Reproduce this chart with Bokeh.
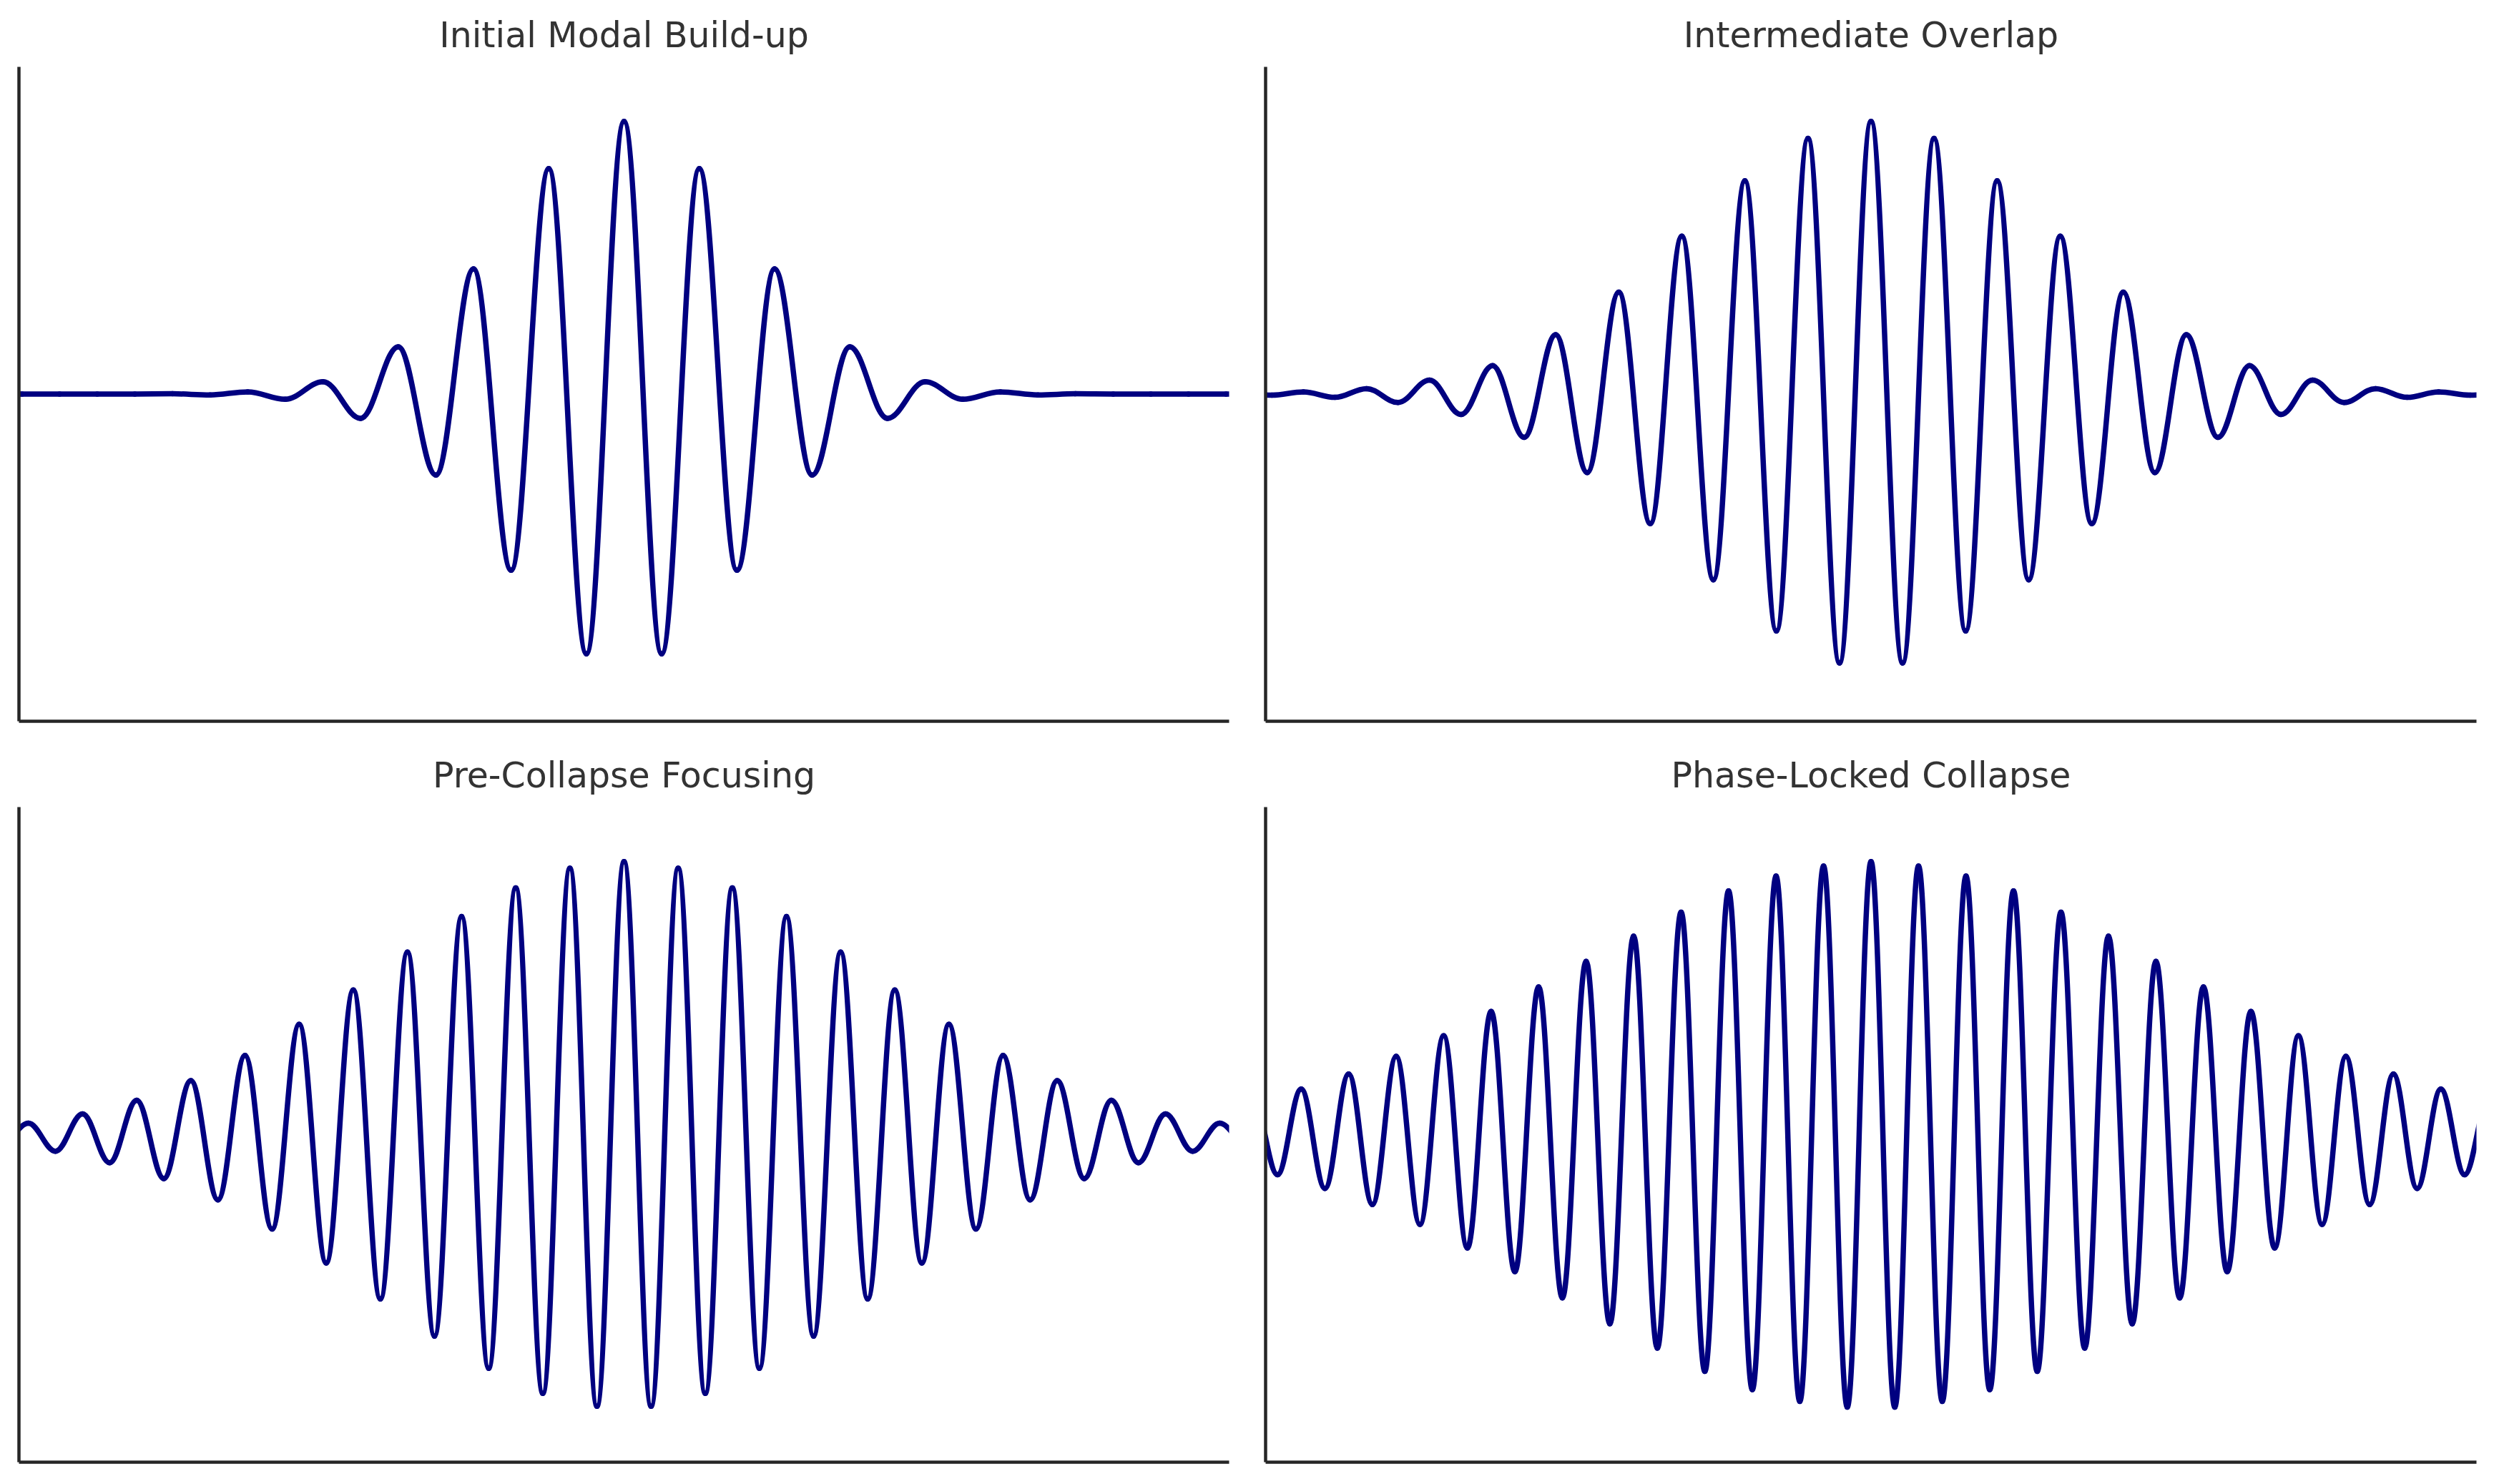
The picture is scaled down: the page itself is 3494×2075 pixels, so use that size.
from bokeh.plotting import figure
from bokeh.models import Range1d, ColumnDataSource, FixedTicker
from bokeh.layouts import gridplot
from bokeh.embed import file_html
from bokeh.resources import INLINE

# ---- data (extrema of each wave packet) ----
TITLES = ["Initial Modal Build-up", "Intermediate Overlap",
          "Pre-Collapse Focusing", "Phase-Locked Collapse"]

# extremum index (half-periods from the packet centre) and extremum value
P1_INDEX = [-17, -16, -15, -14, -13, -12, -11, -10, -9, -8, -7, -6, -5, -4, -3, -2, -1, 0,
            1, 2, 3, 4, 5, 6, 7, 8, 9, 10, 11, 12, 13, 14, 15, 16, 17]
P1_VALUE = [0, 0, 0, 0, 0, 0.001, -0.003, 0.008, -0.019, 0.045, -0.089, 0.173, -0.297,
            0.459, -0.646, 0.827, -0.953, 1.0, -0.953, 0.827, -0.646, 0.459, -0.297,
            0.173, -0.089, 0.045, -0.019, 0.008, -0.003, 0.001, 0, 0, 0, 0, 0]

P2_INDEX = [-20, -19, -18, -17, -16, -15, -14, -13, -12, -11, -10, -9, -8, -7, -6, -5, -4,
            -3, -2, -1, 0, 1, 2, 3, 4, 5, 6, 7, 8, 9, 10, 11, 12, 13, 14, 15, 16, 17, 18,
            19, 20]
P2_VALUE = [0.002, -0.004, 0.008, -0.012, 0.020, -0.031, 0.051, -0.075, 0.104, -0.159,
            0.218, -0.288, 0.374, -0.475, 0.579, -0.681, 0.782, -0.869, 0.938, -0.986,
            1.0, -0.986, 0.938, -0.869, 0.782, -0.681, 0.579, -0.475, 0.374, -0.288,
            0.218, -0.159, 0.104, -0.075, 0.051, -0.031, 0.020, -0.012, 0.008, -0.004,
            0.002]

P3_INDEX = [-23, -22, -21, -20, -19, -18, -17, -16, -15, -14, -13, -12, -11, -10, -9, -8,
            -7, -6, -5, -4, -3, -2, -1, 0, 1, 2, 3, 4, 5, 6, 7, 8, 9, 10, 11, 12, 13, 14,
            15, 16, 17, 18, 19, 20, 21, 22, 23]
P3_VALUE = [-0.037, 0.042, -0.061, 0.076, -0.103, 0.126, -0.161, 0.198, -0.239, 0.290,
            -0.346, 0.404, -0.470, 0.530, -0.602, 0.669, -0.738, 0.799, -0.856, 0.904,
            -0.948, 0.976, -0.995, 1.0, -0.995, 0.976, -0.948, 0.904, -0.856, 0.799,
            -0.738, 0.669, -0.602, 0.530, -0.470, 0.404, -0.346, 0.290, -0.239, 0.198,
            -0.161, 0.126, -0.103, 0.076, -0.061, 0.042, -0.037]

P4_INDEX = [-26, -25, -24, -23, -22, -21, -20, -19, -18, -17, -16, -15, -14, -13, -12,
            -11, -10, -9, -8, -7, -6, -5, -4, -3, -2, -1, 0, 1, 2, 3, 4, 5, 6, 7, 8, 9, 10,
            11, 12, 13, 14, 15, 16, 17, 18, 19, 20, 21, 22, 23, 24, 25, 26]
P4_VALUE = [0.125, -0.147, 0.167, -0.197, 0.222, -0.256, 0.287, -0.329, 0.362, -0.415,
            0.451, -0.502, 0.541, -0.598, 0.635, -0.693, 0.727, -0.782, 0.815, -0.867,
            0.893, -0.934, 0.947, -0.977, 0.984, -0.998, 1.0, -0.998, 0.984, -0.977,
            0.947, -0.934, 0.893, -0.867, 0.815, -0.782, 0.727, -0.693, 0.635, -0.598,
            0.541, -0.502, 0.451, -0.415, 0.362, -0.329, 0.287, -0.256, 0.222, -0.197,
            0.167, -0.147, 0.125]

# visible x extent of each panel, in half-periods
X_EXTENT = [16.08, 19.2, 22.35, 25.5]
Y_EXTENT = 1.2

SERIES = [(P1_INDEX, P1_VALUE), (P2_INDEX, P2_VALUE),
          (P3_INDEX, P3_VALUE), (P4_INDEX, P4_VALUE)]

LINE_COLOR = "#000080"
SPINE_COLOR = "#262626"
TITLE_COLOR = "#333333"
K = 0.3634  # Bezier handle fraction for a half-cosine arc


def segments(xs, ys):
    d = dict(x0=[], y0=[], x1=[], y1=[], cx0=[], cy0=[], cx1=[], cy1=[])
    for i in range(len(xs) - 1):
        xa, ya, xb, yb = xs[i], ys[i], xs[i + 1], ys[i + 1]
        dx = xb - xa
        d["x0"].append(xa); d["y0"].append(ya)
        d["x1"].append(xb); d["y1"].append(yb)
        d["cx0"].append(xa + K * dx); d["cy0"].append(ya)
        d["cx1"].append(xb - K * dx); d["cy1"].append(yb)
    return ColumnDataSource(d)


# (width, height, border left, right, top, bottom)
LAYOUT = [
    (1743, 1037, 26, 25, 93, 29),
    (1739, 1037, 26, 20, 93, 29),
    (1743, 1021, 26, 25, 91, 14),
    (1739, 1021, 26, 20, 91, 14),
]

plots = []
for k in range(4):
    w, h, bl, br, bt, bb = LAYOUT[k]
    xe = X_EXTENT[k]
    p = figure(width=w, height=h, output_backend="svg", toolbar_location=None,
               x_range=Range1d(-xe, xe), y_range=Range1d(-Y_EXTENT, Y_EXTENT),
               min_border_left=bl, min_border_right=br,
               min_border_top=bt, min_border_bottom=bb,
               title=TITLES[k])
    p.outline_line_color = None
    p.background_fill_color = "white"
    p.border_fill_color = "white"
    p.xgrid.visible = False
    p.ygrid.visible = False
    for ax in (p.xaxis[0], p.yaxis[0]):
        ax.ticker = FixedTicker(ticks=[])
        ax.major_tick_line_color = None
        ax.minor_tick_line_color = None
        ax.major_label_text_font_size = "0px"
        ax.major_label_standoff = 0
        ax.axis_line_color = SPINE_COLOR
        ax.axis_line_width = 4.5
    p.title.text = TITLES[k]
    p.title.align = "center"
    p.title.text_font = "DejaVu Sans"
    p.title.text_font_size = "49px"
    p.title.text_font_style = "normal"
    p.title.text_color = TITLE_COLOR
    p.title.standoff = 32

    xs, ys = SERIES[k]
    p.bezier(x0="x0", y0="y0", x1="x1", y1="y1", cx0="cx0", cy0="cy0",
             cx1="cx1", cy1="cy1", source=segments(xs, ys),
             line_color=LINE_COLOR, line_width=7.5, line_cap="round")
    plots.append(p)

grid = gridplot([[plots[0], plots[1]], [plots[2], plots[3]]], toolbar_location=None)

open("out.html", "w").write(file_html(grid, INLINE))
